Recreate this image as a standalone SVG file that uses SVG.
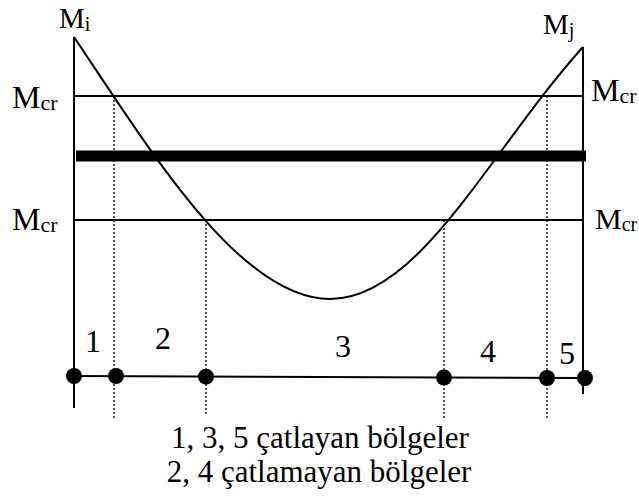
<svg xmlns="http://www.w3.org/2000/svg" width="639" height="499" viewBox="0 0 639 499">
<style>
.ln{stroke:#000;stroke-width:2;fill:none}
.dot{stroke:#000;stroke-width:1.3;stroke-dasharray:2,2;fill:none}
.t{font-family:"Liberation Serif","Times New Roman",serif;fill:#000}
.m{font-size:32px}
.s{font-size:22px}
.n{font-size:32px;text-anchor:middle}
.b{font-size:31px;text-anchor:middle}
</style>
<rect width="639" height="499" fill="#fff"/>
<g id="axes">
<line class="ln" x1="74" y1="37" x2="74" y2="408"/>
<line class="ln" x1="583" y1="47" x2="583" y2="394"/>
<line class="ln" x1="74" y1="96" x2="583" y2="96"/>
<line class="ln" x1="74" y1="220" x2="583" y2="220"/>
<line x1="76" y1="156" x2="586" y2="156" stroke="#000" stroke-width="11"/>
</g>
<g id="moment-curve">
<path class="ln" d="M74,37 C150,150 240,299 330,299 C420,299 490,150 583,47"/>
</g>
<g id="connectors">
<line class="dot" x1="114" y1="96" x2="114" y2="419"/>
<line class="dot" x1="206" y1="220" x2="206" y2="415"/>
<line class="dot" x1="444" y1="220" x2="444" y2="419"/>
<line class="dot" x1="547" y1="96" x2="547" y2="419"/>
<line class="ln" x1="74" y1="376" x2="584" y2="378"/>
</g>
<g id="points">
<circle cx="74" cy="376" r="8"/>
<circle cx="116" cy="376" r="8"/>
<circle cx="206" cy="376.7" r="8"/>
<circle cx="444" cy="377.5" r="8"/>
<circle cx="547" cy="378" r="8"/>
<circle cx="585" cy="378" r="8"/>
</g>
<g id="labels">
<text class="t" x="59" y="28" font-size="29">M<tspan font-size="20" dy="3">i</tspan></text>
<text class="t" x="543" y="34" font-size="29">M<tspan font-size="20" dy="3">j</tspan></text>
<text class="t m" x="12" y="108">M<tspan class="s" dy="2">cr</tspan></text>
<text class="t m" x="12" y="230">M<tspan class="s" dy="2">cr</tspan></text>
<text class="t m" x="591" y="101">M<tspan class="s" dy="2">cr</tspan></text>
<text class="t" x="595" y="229" font-size="30">M<tspan font-size="20" dy="2">cr</tspan></text>
<text class="t n" x="93" y="352">1</text>
<text class="t n" x="163" y="349">2</text>
<text class="t n" x="343" y="357">3</text>
<text class="t n" x="488" y="362">4</text>
<text class="t n" x="567" y="364">5</text>
<text class="t b" x="320" y="448">1, 3, 5 çatlayan bölgeler</text>
<text class="t b" x="319" y="482">2, 4 çatlamayan bölgeler</text>
</g>
</svg>
